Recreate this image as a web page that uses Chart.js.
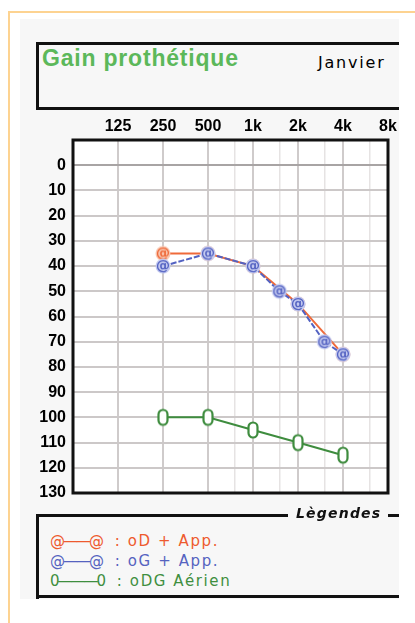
<!DOCTYPE html>
<html>
<head>
<meta charset="utf-8">
<script src="https://cdn.jsdelivr.net/npm/chart.js@4.4.0/dist/chart.umd.min.js"></script>
<style>
  body { margin: 0; width: 415px; height: 623px; background: #fff; position: relative; overflow: hidden; font-family: "DejaVu Sans", sans-serif; }
  .abs { position: absolute; line-height: 1; white-space: pre; }
  #frame { left: 8px; top: 11px; width: 407px; height: 612px; border-left: 2px solid #fdd391; border-top: 2px solid #fdd391; box-sizing: border-box; }
  #panel { left: 20px; top: 19px; width: 379px; height: 580px; background: #f7f7f7; }
  #titleBox { left: 36px; top: 42px; width: 363px; height: 68px; box-sizing: border-box; border-top: 3px solid #111; border-left: 3px solid #111; border-bottom: 3px solid #111; }
  #title { left: 42px; top: 46.5px; font-family: "Liberation Sans", Arial, sans-serif; font-weight: bold; font-size: 23px; letter-spacing: 0.8px; color: #5cb85a; }
  #month { left: 318px; top: 54.5px; font-size: 16px; letter-spacing: 1.8px; color: #000; }
  .line { background: #111; }
  .leg { font-size: 15px; letter-spacing: 1.6px; left: 50px; }
  .mk { letter-spacing: -2px; }
  #legTitle { left: 296px; top: 506.3px; font-size: 14px; font-style: italic; font-weight: bold; letter-spacing: 1.2px; color: #111; }
  #chart { position: absolute; left: 0; top: 100px; }
</style>
</head>
<body>
<div id="frame" class="abs"></div>
<div id="panel" class="abs"></div>
<div id="titleBox" class="abs"></div>
<div id="title" class="abs">Gain prothétique</div>
<div id="month" class="abs">Janvier</div>

<canvas id="chart" width="399" height="410"></canvas>

<div class="abs line" style="left:36px;top:513.5px;width:252px;height:3px;"></div>
<div class="abs line" style="left:388px;top:513.5px;width:11px;height:3px;"></div>
<div class="abs line" style="left:36px;top:513.5px;width:3px;height:85px;"></div>
<div class="abs line" style="left:36px;top:595px;width:363px;height:3px;"></div>
<div id="legTitle" class="abs">Lègendes</div>
<div class="abs leg" style="top:534px;color:#ee5a2e;"><span class="mk">@——@</span>  : oD + App.</div>
<div class="abs leg" style="top:554px;color:#5563c0;"><span class="mk">@——@</span>  : oG + App.</div>
<div class="abs leg" style="top:574px;color:#3f8f3f;"><span class="mk">0———0</span>  : oDG Aérien</div>

<script>
// Frequencies on the top axis
const freqs = [125, 250, 500, 1000, 2000, 4000, 8000];
const freqLabels = ['125', '250', '500', '1k', '2k', '4k', '8k'];
const minorFreqs = [750, 1500, 3000, 6000];

// Hearing level ticks (dB)
const dbTicks = [-10, 0, 10, 20, 30, 40, 50, 60, 70, 80, 90, 100, 110, 120, 130];

// oD + App.
const odFreqs = [250, 500, 1000, 2000, 4000];
const odValues = [35, 35, 40, 55, 75];

// oG + App.
const ogFreqs = [250, 500, 1000, 1500, 2000, 3000, 4000];
const ogValues = [40, 35, 40, 50, 55, 70, 75];

// oDG Aérien
const aerFreqs = [250, 500, 1000, 2000, 4000];
const aerValues = [100, 100, 105, 110, 115];

const RED = '#ef6a3a';
const BLUE = '#5362c2';
const GREEN = '#3e8c3e';

// Marker made from the "@" glyph on a light disc
function atMarker(color, tint) {
    const c = document.createElement('canvas');
    c.width = 18; c.height = 18;
    const g = c.getContext('2d');
    g.fillStyle = tint;
    g.beginPath();
    g.arc(9, 9, 7.5, 0, Math.PI * 2);
    g.fill();
    g.fillStyle = color;
    g.font = 'bold 14px "DejaVu Sans"';
    g.textAlign = 'center';
    g.textBaseline = 'middle';
    g.fillText('@', 9, 9.5);
    return c;
}

// Tall "0" marker
function zeroMarker(color) {
    const c = document.createElement('canvas');
    c.width = 14; c.height = 20;
    const g = c.getContext('2d');
    const r = 4.5, cx = 7, top = 2.5, bottom = 17.5;
    g.beginPath();
    g.arc(cx, top + r, r, Math.PI, 0);
    g.lineTo(cx + r, bottom - r);
    g.arc(cx, bottom - r, r, 0, Math.PI);
    g.closePath();
    g.fillStyle = '#fff';
    g.fill();
    g.strokeStyle = color;
    g.lineWidth = 2.2;
    g.stroke();
    return c;
}

function toPoints(xs, ys) {
    return xs.map((x, i) => ({ x: x, y: ys[i] }));
}

// White plot background and black frame
const plotFrame = {
    id: 'plotFrame',
    beforeDraw(chart) {
        const a = chart.chartArea;
        const ctx = chart.ctx;
        ctx.save();
        ctx.fillStyle = '#fff';
        ctx.fillRect(a.left, a.top, a.right - a.left, a.bottom - a.top);
        ctx.restore();
    },
    beforeDatasetsDraw(chart) {
        const a = chart.chartArea;
        const ctx = chart.ctx;
        ctx.save();
        ctx.strokeStyle = '#111';
        ctx.lineWidth = 3;
        ctx.strokeRect(a.left, a.top, a.right - a.left, a.bottom - a.top);
        ctx.restore();
    }
};

const tickFont = { family: 'Liberation Sans', size: 16, weight: 'bold' };

new Chart(document.getElementById('chart'), {
    type: 'line',
    data: {
        datasets: [
            {
                label: 'oD + App.',
                data: toPoints(odFreqs, odValues),
                borderColor: RED,
                borderWidth: 2,
                pointStyle: atMarker(RED, '#f8c4ae'),
                pointRadius: 7,
                order: 2
            },
            {
                label: 'oG + App.',
                data: toPoints(ogFreqs, ogValues),
                borderColor: BLUE,
                borderWidth: 2,
                borderDash: [6, 2],
                pointStyle: atMarker(BLUE, '#c3c9ef'),
                pointRadius: 7,
                order: 1
            },
            {
                label: 'oDG Aérien',
                data: toPoints(aerFreqs, aerValues),
                borderColor: GREEN,
                borderWidth: 2,
                pointStyle: zeroMarker(GREEN),
                pointRadius: 7,
                order: 3
            }
        ]
    },
    options: {
        responsive: false,
        animation: false,
        layout: { padding: { left: 33, right: 11, top: 15, bottom: 17 } },
        plugins: { legend: { display: false }, tooltip: { enabled: false } },
        scales: {
            x: {
                type: 'logarithmic',
                position: 'top',
                min: 62.5,
                max: 8000,
                afterBuildTicks: s => {
                    s.ticks = freqs.concat(minorFreqs).sort((a, b) => a - b).map(v => ({ value: v }));
                },
                afterFit: s => { s.height = 25; s.paddingLeft = 0; s.paddingRight = 0; },
                ticks: {
                    autoSkip: false,
                    maxRotation: 0,
                    padding: 4,
                    color: '#000',
                    font: tickFont,
                    callback: v => {
                        const i = freqs.indexOf(v);
                        return i >= 0 ? freqLabels[i] : '';
                    }
                },
                grid: {
                    drawTicks: false,
                    color: c => freqs.includes(c.tick.value) ? '#cfcbcb' : '#e6e3e3',
                    lineWidth: c => freqs.includes(c.tick.value) ? 2 : 1.5
                },
                border: { display: false }
            },
            y: {
                type: 'linear',
                reverse: true,
                min: -10,
                max: 130,
                afterBuildTicks: s => { s.ticks = dbTicks.map(v => ({ value: v })); },
                afterFit: s => { s.width = 40; s.paddingTop = 0; s.paddingBottom = 0; },
                ticks: {
                    padding: 7,
                    color: '#000',
                    font: tickFont,
                    callback: v => v < 0 ? '' : String(v)
                },
                grid: {
                    drawTicks: false,
                    color: c => c.tick.value === 0 ? '#a8a4a4' : '#ccc8c8',
                    lineWidth: 2
                },
                border: { display: false }
            }
        }
    },
    plugins: [plotFrame]
});
</script>
</body>
</html>
